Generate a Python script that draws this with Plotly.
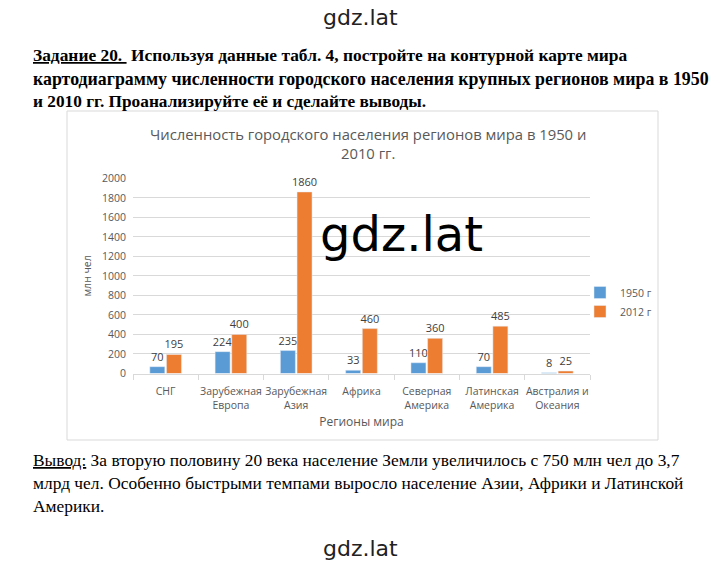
import plotly.graph_objects as go

W, H = 720, 564

categories = ["СНГ", "Зарубежная<br>Европа", "Зарубежная<br>Азия", "Африка",
              "Северная<br>Америка", "Латинская<br>Америка", "Австралия и<br>Океания"]
values_1950 = [70, 224, 235, 33, 110, 70, 8]
values_2012 = [195, 400, 1860, 460, 360, 485, 25]
series_names = ["1950 г", "2012 г"]
y_ticks = list(range(0, 2001, 200))

chart_title = "Численность городского населения регионов мира в 1950 и<br>2010 гг."
x_title = "Регионы мира"
y_title = "млн чел"

header_lines = [
    "<u>Задание 20. </u> Используя данные табл. 4, постройте на контурной карте мира",
    "картодиаграмму численности городского населения крупных регионов мира в 1950",
    "и 2010 гг. Проанализируйте её и сделайте выводы.",
]
footer_lines = [
    "<u>Вывод:</u> За вторую половину 20 века население Земли увеличилось с 750 млн чел до 3,7",
    "млрд чел. Особенно быстрыми темпами выросло население Азии, Африки и Латинской",
    "Америки.",
]
watermark = "gdz.lat"


def px(x):
    return x / W


def py(y):
    return 1 - y / H


GRAY = "#595959"
fig = go.Figure()
fig.add_trace(go.Bar(x=categories, y=values_1950, name=series_names[0],
                     marker_color="#5B9BD5", text=values_1950, textposition="outside",
                     constraintext="none",
                     textfont=dict(size=11, color="#404040"), cliponaxis=False))
fig.add_trace(go.Bar(x=categories, y=values_2012, name=series_names[1],
                     marker_color="#ED7D31", text=values_2012, textposition="outside",
                     constraintext="none",
                     textfont=dict(size=11, color="#404040"), cliponaxis=False))

ann = []
# chart title
ann.append(dict(text=chart_title, x=px(368), y=py(144), xref="paper", yref="paper",
                showarrow=False, xanchor="center", yanchor="middle",
                font=dict(family="Open Sans", size=14.8, color=GRAY)))
# header text
for t, yy, fs in zip(header_lines, [55, 79, 101], [17.4, 17.85, 17.3]):
    ann.append(dict(text="<b>" + t + "</b>", x=px(31), y=py(yy), xref="paper", yref="paper",
                    showarrow=False, xanchor="left", yanchor="middle",
                    font=dict(family="Liberation Serif", size=fs, color="#000")))
for t, yy in zip(footer_lines, [460, 483, 506]):
    ann.append(dict(text=t, x=px(31), y=py(yy), xref="paper", yref="paper",
                    showarrow=False, xanchor="left", yanchor="middle",
                    font=dict(family="Liberation Serif", size=17.4, color="#000")))
# watermarks
ann.append(dict(text=watermark, x=px(360), y=py(17), xref="paper", yref="paper",
                showarrow=False, xanchor="center", yanchor="middle",
                font=dict(family="DejaVu Sans", size=22, color="#222")))
ann.append(dict(text=watermark, x=px(360), y=py(548), xref="paper", yref="paper",
                showarrow=False, xanchor="center", yanchor="middle",
                font=dict(family="DejaVu Sans", size=22, color="#222")))
ann.append(dict(text=watermark, x=px(401), y=py(234), xref="paper", yref="paper",
                showarrow=False, xanchor="center", yanchor="middle",
                font=dict(family="DejaVu Sans", size=48, color="#000")))

fig.update_layout(
    width=W, height=H,
    margin=dict(l=0, r=0, t=0, b=0, autoexpand=False),
    paper_bgcolor="white", plot_bgcolor="white",
    barmode="group", bargap=0.49, bargroupgap=0.1,
    font=dict(family="Open Sans", color=GRAY),
    annotations=ann,
    showlegend=True,
    legend=dict(x=px(580), y=py(278), xanchor="left", yanchor="top",
                font=dict(size=10.5, color=GRAY), bgcolor="rgba(0,0,0,0)",
                itemwidth=30, tracegroupgap=0),
    shapes=[dict(type="rect", xref="paper", yref="paper",
                 x0=px(67), x1=px(658), y0=py(440), y1=py(111),
                 line=dict(color="#d9d9d9", width=1))],
    xaxis=dict(domain=[px(133), px(590)], showline=True, linecolor="#d9d9d9",
               ticks="outside", tickson="boundaries", ticklen=5, tickcolor="#d9d9d9",
               tickangle=0, automargin=False, ticklabelstandoff=8,
               tickfont=dict(size=10.5, color=GRAY),
               title=dict(text=x_title, font=dict(size=12, color=GRAY), standoff=6)),
    yaxis=dict(domain=[py(373.5), py(178.3)], range=[0, 2000], tickvals=y_ticks,
               showgrid=True, gridcolor="#d9d9d9", zeroline=False, automargin=False,
               tickfont=dict(size=10.5, color=GRAY), ticks="", ticklabelstandoff=6,
               title=dict(text=y_title, font=dict(size=10.5, color=GRAY), standoff=8)),
)

fig.write_html("out.html", config={"displayModeBar": False},
               post_script="document.body.style.margin='0';document.body.style.padding='0';")
